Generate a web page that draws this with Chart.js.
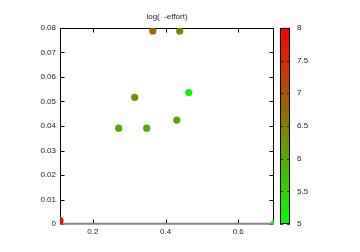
<!DOCTYPE html>
<html>
<head>
<meta charset="utf-8">
<script src="https://cdn.jsdelivr.net/npm/chart.js@4/dist/chart.umd.min.js"></script>
<style>
  body { margin: 0; background: #fff; }
  canvas { display: block; }
</style>
</head>
<body>
<canvas id="chart" width="360" height="252"></canvas>
<script>
// values
const xValues = [0.1095, 0.271, 0.315, 0.348, 0.365, 0.431, 0.439, 0.464, 0.6985];
const yValues = [0.0015, 0.0391, 0.0517, 0.0391, 0.0787, 0.0424, 0.0787, 0.0536, 0];
const effortValues = [8.0, 6.05, 6.25, 6.05, 6.8, 6.1, 6.4, 5.1, 5.25];

const xTicks = [0.2, 0.4, 0.6];
const yTicks = [0, 0.01, 0.02, 0.03, 0.04, 0.05, 0.06, 0.07, 0.08];
const cbTicks = [5, 5.5, 6, 6.5, 7, 7.5, 8];
const cbMin = 5, cbMax = 8;

const fontFamily = '"Liberation Sans", Arial, sans-serif';

function effortColor(v) {
  const t = Math.min(1, Math.max(0, (v - cbMin) / (cbMax - cbMin)));
  return `rgb(${Math.round(255 * t)},${Math.round(255 * (1 - t))},0)`;
}

function line(ctx, x1, y1, x2, y2) {
  ctx.beginPath();
  ctx.moveTo(x1, y1);
  ctx.lineTo(x2, y2);
  ctx.stroke();
}

// border with inward ticks, like gnuplot
const framePlugin = {
  id: 'frame',
  beforeDatasetsDraw(chart) {
    const { ctx, chartArea: a, scales } = chart;
    ctx.save();
    ctx.strokeStyle = '#000';
    ctx.lineWidth = 1;
    const L = Math.round(a.left) + 0.5, R = Math.round(a.right) - 0.5;
    const T = Math.round(a.top) + 0.5, B = Math.round(a.bottom) - 0.5;
    line(ctx, L, B, L, T);
    line(ctx, L, T, R, T);
    line(ctx, R, T, R, B);
    scales.x.ticks.forEach(t => {
      const px = Math.round(scales.x.getPixelForValue(t.value)) + 0.5;
      line(ctx, px, B, px, B - 4);
      line(ctx, px, T, px, T + 4);
    });
    scales.y.ticks.forEach(t => {
      const py = Math.round(scales.y.getPixelForValue(t.value)) + 0.5;
      line(ctx, L, py, L + 4, py);
      line(ctx, R, py, R - 4, py);
    });
    // zero axis along the bottom
    ctx.strokeStyle = '#888';
    ctx.lineWidth = 2;
    const y0 = scales.y.getPixelForValue(0);
    line(ctx, a.left, y0 - 0.5, a.right, y0 - 0.5);
    ctx.restore();
  }
};

// colour box drawn against the cb scale
const colorbarPlugin = {
  id: 'colorbar',
  afterDraw(chart) {
    const { ctx } = chart;
    const cb = chart.scales.cb;
    const top = cb.getPixelForValue(cbMax), bottom = cb.getPixelForValue(cbMin);
    const x1 = 280, x2 = 290;
    const grad = ctx.createLinearGradient(0, bottom, 0, top);
    grad.addColorStop(0, effortColor(cbMin));
    grad.addColorStop(0.5, effortColor((cbMin + cbMax) / 2));
    grad.addColorStop(1, effortColor(cbMax));
    ctx.save();
    ctx.fillStyle = grad;
    ctx.fillRect(x1, top, x2 - x1, bottom - top);
    ctx.strokeStyle = '#000';
    ctx.lineWidth = 1;
    ctx.strokeRect(x1 + 0.5, Math.round(top) + 0.5, x2 - x1 - 1, Math.round(bottom - top) - 1);
    ctx.strokeStyle = 'rgba(0,0,0,0.7)';
    cb.ticks.forEach(t => {
      const py = Math.round(cb.getPixelForValue(t.value)) + 0.5;
      line(ctx, x1, py, x1 + 3, py);
      line(ctx, x2, py, x2 - 3, py);
    });
    ctx.restore();
  }
};

const ctx = document.getElementById('chart').getContext('2d');
new Chart(ctx, {
  type: 'scatter',
  data: {
    datasets: [{
      data: xValues.map((x, i) => ({ x: x, y: yValues[i] })),
      pointRadius: 3.6,
      pointBorderWidth: 0,
      pointBackgroundColor: effortValues.map(effortColor),
      pointBorderColor: effortValues.map(effortColor)
    }]
  },
  options: {
    responsive: false,
    animation: false,
    layout: { padding: 0 },
    plugins: {
      legend: { display: false },
      tooltip: { enabled: false },
      title: {
        display: true,
        text: 'log(  -effort)',
        fullSize: false,
        color: '#222',
        font: { family: fontFamily, size: 8, weight: 'normal' },
        padding: { top: 6, bottom: 6.4 }
      }
    },
    scales: {
      x: {
        type: 'linear',
        position: 'bottom',
        min: 0.1095,
        max: 0.6985,
        afterBuildTicks: s => { s.ticks = xTicks.map(v => ({ value: v })); },
        afterFit: s => { s.height = 15; },
        grid: { display: false, drawTicks: false },
        border: { display: false },
        ticks: {
          color: '#222',
          padding: 3,
          maxRotation: 0,
          font: { family: fontFamily, size: 8 },
          callback: v => String(v)
        }
      },
      y: {
        type: 'linear',
        position: 'left',
        min: 0,
        max: 0.08,
        afterBuildTicks: s => { s.ticks = yTicks.map(v => ({ value: v })); },
        afterFit: s => { s.width = 60; },
        grid: { display: false, drawTicks: false },
        border: { display: false },
        ticks: {
          color: '#222',
          padding: 4,
          font: { family: fontFamily, size: 8 },
          callback: v => (v === 0 ? '0' : v.toFixed(2))
        }
      },
      cb: {
        type: 'linear',
        position: 'right',
        min: cbMin,
        max: cbMax,
        afterBuildTicks: s => { s.ticks = cbTicks.map(v => ({ value: v })); },
        afterFit: s => { s.width = 86; },
        grid: { display: false, drawTicks: false },
        border: { display: false },
        ticks: {
          color: '#222',
          padding: 23,
          font: { family: fontFamily, size: 8 },
          callback: v => String(v)
        }
      }
    }
  },
  plugins: [framePlugin, colorbarPlugin]
});
</script>
</body>
</html>
